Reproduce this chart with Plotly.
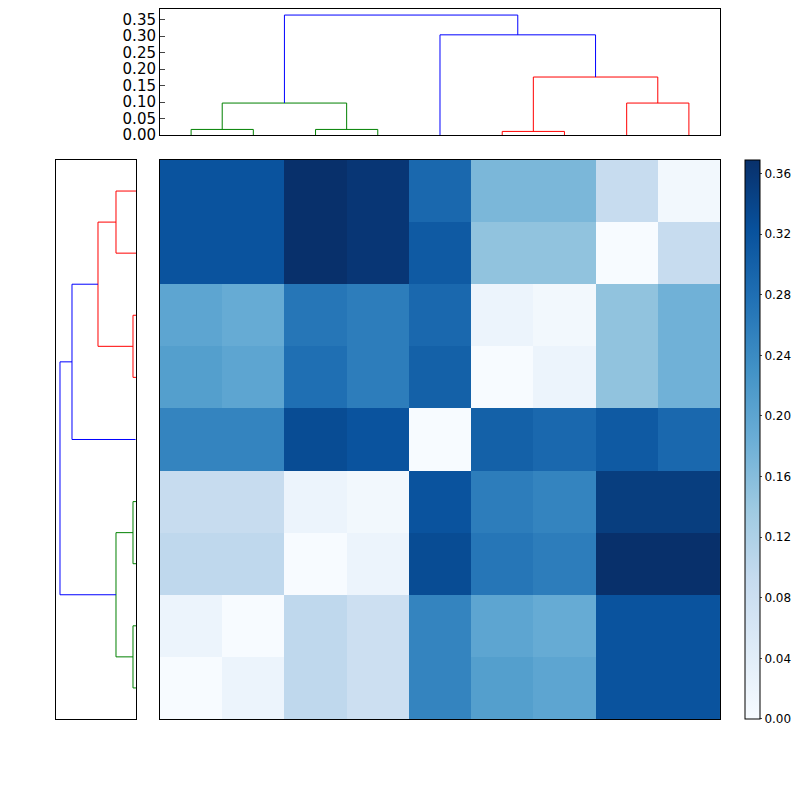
import plotly.graph_objects as go

values = [
    [0.32,0.32,0.37,0.36,0.29,0.17,0.17,0.09,0.01],
    [0.32,0.32,0.37,0.36,0.31,0.15,0.15,0.00,0.09],
    [0.20,0.19,0.27,0.26,0.29,0.02,0.01,0.15,0.18],
    [0.21,0.20,0.28,0.26,0.30,0.00,0.02,0.15,0.18],
    [0.25,0.25,0.33,0.32,0.00,0.30,0.29,0.31,0.29],
    [0.09,0.09,0.02,0.01,0.32,0.26,0.25,0.35,0.35],
    [0.10,0.10,0.00,0.02,0.33,0.27,0.26,0.37,0.37],
    [0.02,0.00,0.10,0.08,0.25,0.20,0.19,0.32,0.32],
    [0.00,0.02,0.10,0.08,0.25,0.21,0.20,0.32,0.32],
]
# top dendrogram links: (left pos, right pos, left height, right height, merge height, color)
top_links = [
    (0, 1, 0, 0, 0.017, "green"),
    (2, 3, 0, 0, 0.017, "green"),
    (0.5, 2.5, 0.017, 0.017, 0.097, "green"),
    (5, 6, 0, 0, 0.011, "red"),
    (7, 8, 0, 0, 0.097, "red"),
    (5.5, 7.5, 0.011, 0.097, 0.176, "red"),
    (4, 6.5, 0, 0.176, 0.304, "blue"),
    (1.5, 5.25, 0.097, 0.304, 0.364, "blue"),
]
left_links = [
    (0, 1, 0, 0, 0.10, "red"),
    (2, 3, 0, 0, 0.015, "red"),
    (0.5, 2.5, 0.10, 0.015, 0.19, "red"),
    (1.5, 4, 0.19, 0.002, 0.32, "blue"),
    (5, 6, 0, 0, 0.015, "green"),
    (7, 8, 0, 0, 0.015, "green"),
    (5.5, 7.5, 0.015, 0.015, 0.10, "green"),
    (2.75, 6.5, 0.32, 0.10, 0.38, "blue"),
]
blues = ["#f7fbff", "#deebf7", "#c6dbef", "#9ecae1", "#6baed6", "#4292c6", "#2171b5", "#08519c", "#08306b"]
colorscale = [[i / 8, c] for i, c in enumerate(blues)]

fig = go.Figure()
fig.add_trace(go.Heatmap(z=values, x=list(range(9)), y=list(range(9)), colorscale=colorscale,
                         zmin=0, zmax=0.369, xaxis="x", yaxis="y",
                         colorbar=dict(x=0.9306, xanchor="left", y=0.1023, yanchor="bottom", len=0.7058,
                                       lenmode="fraction", ypad=0, xpad=0,
                                       thickness=15, tickvals=[i*0.04 for i in range(10)],
                                       tickformat=".2f", outlinecolor="black", outlinewidth=1,
                                       ticklen=2, tickfont=dict(size=12, color="black"), ticks="outside")))
for a, b, ha, hb, h, c in top_links:
    fig.add_trace(go.Scatter(x=[a, a, b, b], y=[ha, h, h, hb], mode="lines", line=dict(color=c, width=1),
                             xaxis="x2", yaxis="y2", showlegend=False, hoverinfo="skip"))
for a, b, ha, hb, h, c in left_links:
    fig.add_trace(go.Scatter(y=[a, a, b, b], x=[ha, h, h, hb], mode="lines", line=dict(color=c, width=1),
                             xaxis="x3", yaxis="y3", showlegend=False, hoverinfo="skip"))

ax = dict(showgrid=False, zeroline=False, showline=True, mirror=True, linecolor="black", linewidth=1,
          automargin=False)
fig.update_layout(
    width=792, height=792, margin=dict(l=0, r=0, t=0, b=0, autoexpand=False),
    plot_bgcolor="white", paper_bgcolor="white",
    font=dict(family="DejaVu Sans", size=15, color="black"), showlegend=False,
    xaxis=dict(ax, domain=[0.1919, 0.899], range=[-0.5, 8.5], showticklabels=False, ticks=""),
    yaxis=dict(ax, domain=[0.1023, 0.8081], range=[8.5, -0.5], showticklabels=False, ticks=""),
    xaxis2=dict(ax, domain=[0.1919, 0.899], range=[-0.5, 8.5], showticklabels=False, ticks="", anchor="y2"),
    yaxis2=dict(ax, domain=[0.8396, 0.999], range=[0, 0.383], tickvals=[i*0.05 for i in range(8)],
                tickformat=".2f", ticks="inside", anchor="x2"),
    xaxis3=dict(ax, domain=[0.0606, 0.1616], range=[0.40, 0], showticklabels=False, ticks="", anchor="y3"),
    yaxis3=dict(ax, domain=[0.1023, 0.8081], range=[8.5, -0.5], showticklabels=False, ticks="", anchor="x3"),
)
fig.write_html("out.html")
